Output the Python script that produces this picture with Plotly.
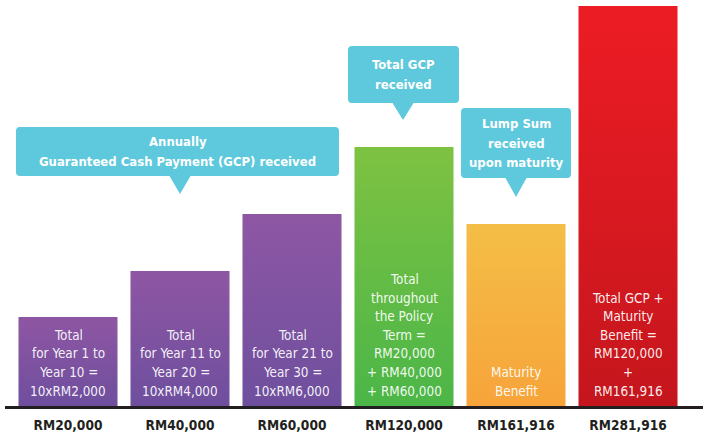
import plotly.graph_objects as go

# ---- data ----
labels = ["RM20,000", "RM40,000", "RM60,000", "RM120,000", "RM161,916", "RM281,916"]
# illustrative bar heights (the picture is not drawn to scale)
display_heights = [89, 135, 192, 259, 182, 400]
bar_texts = [
    ["Total", "for Year 1 to", "Year 10 =", "10xRM2,000"],
    ["Total", "for Year 11 to", "Year 20 =", "10xRM4,000"],
    ["Total", "for Year 21 to", "Year 30 =", "10xRM6,000"],
    ["Total", "throughout", "the Policy", "Term =", "RM20,000", "+ RM40,000", "+ RM60,000"],
    ["Maturity", "Benefit"],
    ["Total GCP +", "Maturity", "Benefit =", "RM120,000", "+", "RM161,916"],
]
bar_top_colors = ["#8e56a3", "#8e56a3", "#8e57a4", "#7ec242", "#f4be46", "#ed1c24"]
bar_bottom_colors = ["#6e4f9e", "#6e4f9e", "#6e4f9e", "#4bb648", "#f7a43a", "#c5161d"]
callout_texts = [
    ["Annually", "Guaranteed Cash Payment (GCP) received"],
    ["Total GCP", "received"],
    ["Lump Sum", "received", "upon maturity"],
]

W, H = 706, 434
ML, MR, MB = 5, 3, 28
BAR_W = 0.884
PITCH = 112.0
X0 = 68.0
PLOT_H = H - MB

FONT_N = "DejaVu Sans Condensed, Liberation Sans Narrow, Roboto, Arial, sans-serif"
CALLOUT = "#5ec8dc"
BAR_LINE_GAP = 18.6
BAR_TEXT_BOTTOM = 15  # centre of the last line, above the baseline
CALL_LINE_GAP = 19.5

fig = go.Figure()
xs = list(range(len(labels)))
for i, h in zip(xs, display_heights):
    fig.add_trace(go.Scatter(
        x=[i - BAR_W / 2, i + BAR_W / 2, i + BAR_W / 2, i - BAR_W / 2, i - BAR_W / 2],
        y=[0, 0, h, h, 0],
        mode="lines", line=dict(width=0), fill="toself",
        fillcolor=bar_top_colors[i],
        fillgradient=dict(type="vertical",
                          colorscale=[[0, bar_bottom_colors[i]], [1, bar_top_colors[i]]]),
        hoverinfo="skip", showlegend=False,
    ))
    lines = bar_texts[i]
    n = len(lines)
    for k, ln in enumerate(lines):
        fig.add_annotation(x=i, y=BAR_TEXT_BOTTOM + (n - 1 - k) * BAR_LINE_GAP,
                           xref="x", yref="y", text=ln,
                           showarrow=False, yanchor="middle", align="center",
                           font=dict(family=FONT_N, size=13.4,
                                     color="rgba(255,255,255,0.93)"))


def dx(px):
    return (px - X0) / PITCH


def dy(py):
    return PLOT_H - py


def bubble(x1, y1, x2, y2, tipx, tipy, half=10.5, r=4):
    p = f"M {dx(x1 + r)},{dy(y1)} L {dx(x2 - r)},{dy(y1)} "
    p += f"Q {dx(x2)},{dy(y1)} {dx(x2)},{dy(y1 + r)} "
    p += f"L {dx(x2)},{dy(y2 - r)} Q {dx(x2)},{dy(y2)} {dx(x2 - r)},{dy(y2)} "
    p += f"L {dx(tipx + half)},{dy(y2)} L {dx(tipx)},{dy(tipy)} L {dx(tipx - half)},{dy(y2)} "
    p += f"L {dx(x1 + r)},{dy(y2)} Q {dx(x1)},{dy(y2)} {dx(x1)},{dy(y2 - r)} "
    p += f"L {dx(x1)},{dy(y1 + r)} Q {dx(x1)},{dy(y1)} {dx(x1 + r)},{dy(y1)} Z"
    return p


boxes = [
    (16, 127, 339, 176, 180, 194),
    (348, 46, 459, 103, 403, 120),
    (461, 108, 571, 178, 516, 197),
]
for (x1, y1, x2, y2, tx, ty), lines in zip(boxes, callout_texts):
    fig.add_shape(type="path", path=bubble(x1, y1, x2, y2, tx, ty), xref="x", yref="y",
                  fillcolor=CALLOUT, line=dict(width=0), layer="above")
    n = len(lines)
    cy = (y1 + y2) / 2
    for k, ln in enumerate(lines):
        py = cy + (k - (n - 1) / 2) * CALL_LINE_GAP
        fig.add_annotation(x=dx((x1 + x2) / 2), y=dy(py), xref="x", yref="y",
                           text=ln, showarrow=False, align="center", yanchor="middle",
                           font=dict(family=FONT_N, size=13, color="white",
                                     weight="bold"))

fig.update_layout(
    width=W, height=H, margin=dict(l=ML, r=MR, t=0, b=MB),
    paper_bgcolor="white", plot_bgcolor="white",
    xaxis=dict(range=[dx(ML), dx(W - MR)], tickvals=xs, ticktext=labels,
               showgrid=False, zeroline=False, showline=True, linewidth=2.5,
               linecolor="#231f20", ticks="", ticklabelstandoff=5,
               tickfont=dict(family=FONT_N, size=13.6, color="#231f20", weight="bold"),
               fixedrange=True),
    yaxis=dict(range=[0, PLOT_H], visible=False, fixedrange=True),
    showlegend=False,
)
fig.write_html("out.html")
